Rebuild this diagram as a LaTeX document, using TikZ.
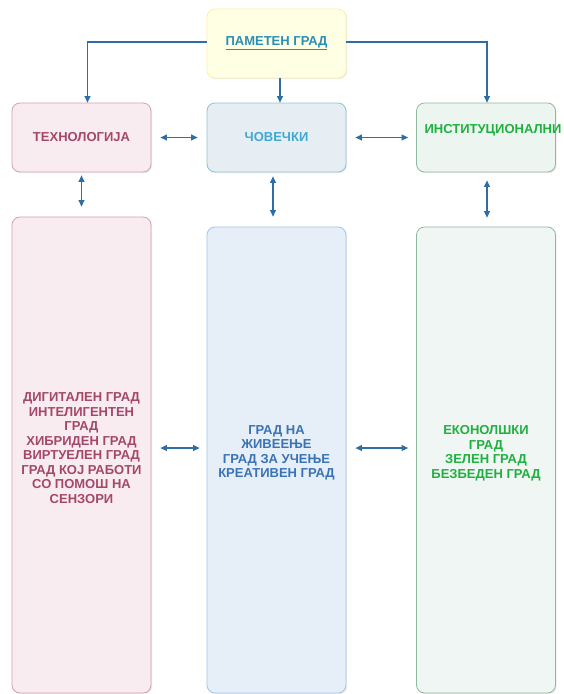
\documentclass[tikz,border=0pt]{standalone}
\usepackage{fontspec}
\setmainfont{Liberation Sans}
\usepackage{xcolor}
\usetikzlibrary{positioning,arrows.meta,shadows}
\definecolor{linkc}{RGB}{47,110,165}
\definecolor{cityfill}{RGB}{255,255,228}
\definecolor{citydraw}{RGB}{255,238,160}
\definecolor{citytext}{RGB}{42,143,181}
\definecolor{techfill}{RGB}{249,236,241}
\definecolor{techdraw}{RGB}{212,160,176}
\definecolor{techtext}{RGB}{164,72,106}
\definecolor{pplfill}{RGB}{231,238,243}
\definecolor{ppldraw}{RGB}{144,192,212}
\definecolor{ppltext}{RGB}{63,169,208}
\definecolor{pplbigfill}{RGB}{230,238,248}
\definecolor{pplbigdraw}{RGB}{160,196,236}
\definecolor{pplbigtext}{RGB}{58,116,180}
\definecolor{instfill}{RGB}{237,245,241}
\definecolor{instbigfill}{RGB}{240,246,243}
\definecolor{instdraw}{RGB}{143,184,160}
\definecolor{insttext}{RGB}{32,176,64}
\tikzset{
  box/.style={rectangle, rounded corners=8pt, line width=0.8pt, minimum width=139pt,
              inner sep=0pt, align=center,
              font=\fontsize{13}{14.5}\selectfont\bfseries,
              drop shadow={opacity=0.15, shadow xshift=1.2pt, shadow yshift=-1.2pt}},
  citybox/.style={box, draw=citydraw, fill=cityfill, text=citytext, minimum height=69pt},
  techbox/.style={box, draw=techdraw, fill=techfill, text=techtext, minimum height=69pt},
  pplbox/.style={box, draw=ppldraw, fill=pplfill, text=ppltext, minimum height=69pt},
  instbox/.style={box, draw=instdraw, fill=instfill, text=insttext, minimum height=69pt},
  techbig/.style={box, draw=techdraw, fill=techfill, text=techtext},
  pplbig/.style={box, draw=pplbigdraw, fill=pplbigfill, text=pplbigtext},
  instbig/.style={box, draw=instdraw, fill=instbigfill, text=insttext},
  coltxt/.style={font=\fontsize{13}{14.5}\selectfont\bfseries, align=center, yshift=7pt},
  link/.style={-{Triangle[length=6.5pt,width=6pt]}, line width=1.2pt, linkc},
  dlink/.style={{Triangle[length=6.5pt,width=6pt]}-{Triangle[length=6.5pt,width=6pt]},
                line width=1.2pt, linkc}
}
\begin{document}
\begin{tikzpicture}[x=1pt,y=1pt]
\useasboundingbox (0,0) rectangle (563,-694);
% top row
\node[citybox] (city) at (276.5,-43.5) {\underline{ПАМЕТЕН ГРАД}};
\node[techbox] (tech) at (81.5,-137.5) {ТЕХНОЛОГИЈА};
\node[pplbox] (ppl) at (276.5,-137.5) {ЧОВЕЧКИ};
\node[instbox, label={[insttext, coltxt, xshift=7pt]center:ИНСТИТУЦИОНАЛНИ}]
  (inst) at (486,-137.5) {};
% columns
\node[techbig, minimum height=476pt,
  label={[techtext, coltxt]center:ДИГИТАЛЕН ГРАД\\ИНТЕЛИГЕНТЕН\\ГРАД\\ХИБРИДЕН ГРАД\\ВИРТУЕЛЕН ГРАД\\ГРАД КОЈ РАБОТИ\\СО ПОМОШ НА\\СЕНЗОРИ}]
  (techcol) at (81.5,-455) {};
\node[pplbig, minimum height=466pt,
  label={[pplbigtext, coltxt]center:ГРАД НА\\ЖИВЕЕЊЕ\\ГРАД ЗА УЧЕЊЕ\\КРЕАТИВЕН ГРАД}]
  (pplcol) at (276.5,-460) {};
\node[instbig, minimum height=466pt,
  label={[insttext, coltxt]center:ЕКОНОЛШКИ\\ГРАД\\ЗЕЛЕН ГРАД\\БЕЗБЕДЕН ГРАД}]
  (instcol) at (486,-460) {};
% connectors
\draw[link] ([yshift=1.5pt]city.west) -| ([xshift=6pt]tech.north);
\draw[link] ([xshift=3.5pt]city.south) -- ([xshift=3.5pt]ppl.north);
\draw[link] ([yshift=1.5pt]city.east) -| ([xshift=1pt]inst.north);
\draw[dlink, shorten <=9pt, shorten >=9pt] (tech.east) -- (ppl.west);
\draw[dlink, shorten <=9pt, shorten >=8pt] (ppl.east) -- (inst.west);
\draw[dlink, shorten <=3pt, shorten >=10pt] (tech.south) -- (techcol.north);
\draw[dlink, shorten <=4pt, shorten >=10pt] ([xshift=-3.5pt]ppl.south) -- ([xshift=-3.5pt]pplcol.north);
\draw[dlink, shorten <=8pt, shorten >=9pt] ([xshift=1pt]inst.south) -- ([xshift=1pt]instcol.north);
\draw[dlink, shorten <=9pt, shorten >=7pt] ([yshift=7pt]techcol.east) -- ([yshift=12pt]pplcol.west);
\draw[dlink, shorten <=9pt, shorten >=8pt] ([yshift=12pt]pplcol.east) -- ([yshift=12pt]instcol.west);
\end{tikzpicture}
\end{document}
